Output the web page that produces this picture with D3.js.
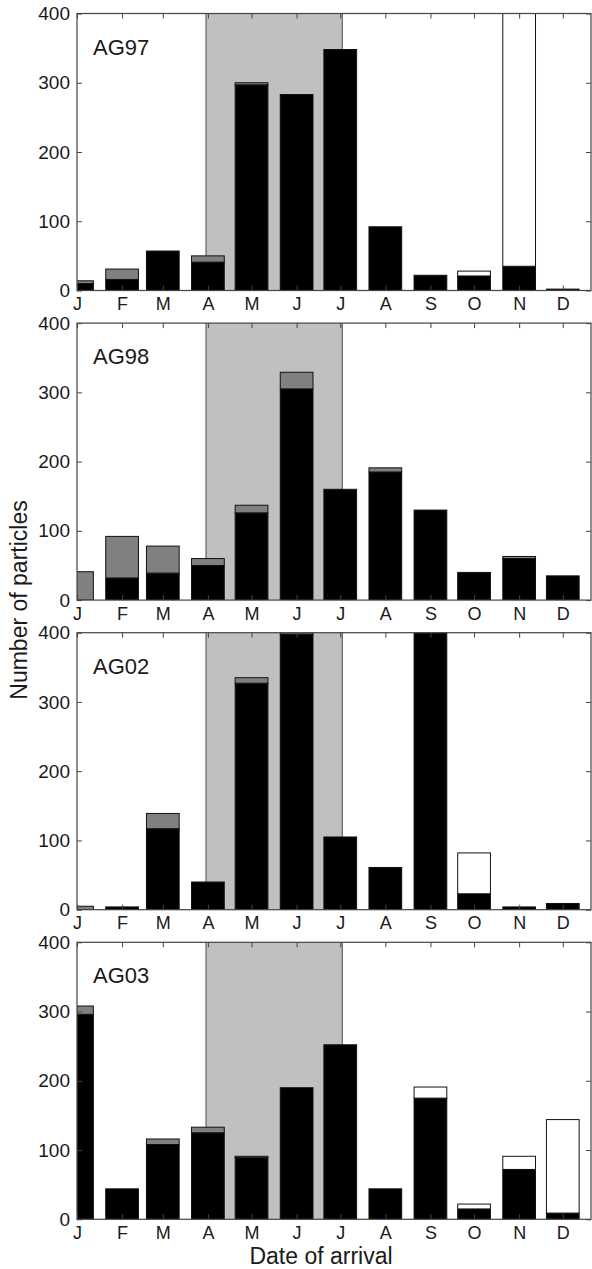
<!DOCTYPE html>
<html>
<head>
<meta charset="utf-8">
<script src="https://cdn.jsdelivr.net/npm/d3@7"></script>
<style>
  html, body { margin: 0; padding: 0; background: #fff; }
  svg { display: block; }
  text { font-family: "Liberation Sans", Arial, Helvetica, sans-serif; fill: #1a1a1a; }
</style>
</head>
<body>
<svg id="chart" width="592" height="1269"></svg>
<script>
// ---- data ----
const months = ["J","F","M","A","M","J","J","A","S","O","N","D"];
const monthDays = [15, 46, 74, 105, 135, 166, 196, 227, 258, 288, 319, 349]; // mid-month day of year
const yTicks = [0, 100, 200, 300, 400];
const panelNames = ["AG97", "AG98", "AG02", "AG03"];
const shadeStartDay = 103.7;
const shadeEndDay = 197.4;

// stacked segment sizes: black (bottom), gray (middle), white (top)
const blackAG97 = [10, 16, 57, 41, 297, 283, 348, 92, 22, 21, 35, 2];
const grayAG97  = [4, 15, 0, 9, 3, 0, 0, 0, 0, 0, 0, 0];
const whiteAG97 = [0, 0, 0, 0, 0, 0, 0, 0, 0, 7, 445, 0];

const blackAG98 = [0, 32, 39, 50, 126, 305, 160, 185, 130, 40, 60, 35];
const grayAG98  = [41, 60, 39, 10, 11, 24, 0, 6, 0, 0, 3, 0];
const whiteAG98 = [0, 0, 0, 0, 0, 0, 0, 0, 0, 0, 0, 0];

const blackAG02 = [0, 4, 117, 40, 327, 398, 105, 61, 450, 23, 4, 9];
const grayAG02  = [5, 0, 22, 0, 8, 30, 0, 0, 0, 0, 0, 0];
const whiteAG02 = [0, 0, 0, 0, 0, 0, 0, 0, 0, 59, 0, 0];

const blackAG03 = [296, 44, 108, 125, 89, 190, 252, 44, 175, 15, 72, 9];
const grayAG03  = [12, 0, 8, 8, 2, 0, 0, 0, 0, 0, 0, 0];
const whiteAG03 = [0, 0, 0, 0, 0, 0, 0, 0, 16, 7, 19, 135];

const series = [
  [blackAG97, grayAG97, whiteAG97],
  [blackAG98, grayAG98, whiteAG98],
  [blackAG02, grayAG02, whiteAG02],
  [blackAG03, grayAG03, whiteAG03]
];
const segColors = ["#000000", "#808080", "#ffffff"];

// ---- layout ----
const svg = d3.select("#chart");
const left = 77, right = 591;
const panelTop0 = 13.5, panelStep = 309.6, panelH = 277;
const barDays = 22.5;
const frameColor = "#444";

const x = d3.scaleLinear().domain([15, 368.4]).range([left, right]);

panelNames.forEach((name, p) => {
  const top = panelTop0 + p * panelStep;
  const bottom = top + panelH;
  const y = d3.scaleLinear().domain([0, 400]).range([bottom, top]);
  const g = svg.append("g");

  const clipId = "clip" + p;
  svg.append("clipPath").attr("id", clipId)
    .append("rect").attr("x", left).attr("y", top)
    .attr("width", right - left).attr("height", panelH);

  const plot = g.append("g").attr("clip-path", `url(#${clipId})`);

  // shaded season
  plot.append("rect")
    .attr("x", x(shadeStartDay)).attr("y", top)
    .attr("width", x(shadeEndDay) - x(shadeStartDay)).attr("height", panelH)
    .attr("fill", "#c0c0c0");
  [shadeStartDay, shadeEndDay].forEach(d => {
    plot.append("line")
      .attr("x1", x(d)).attr("x2", x(d)).attr("y1", top).attr("y2", bottom)
      .attr("stroke", "#4a4a4a").attr("stroke-width", 1);
  });

  // stacked bars
  const [bl, gr, wh] = series[p];
  const segs = [];
  monthDays.forEach((d, i) => {
    let base = 0;
    [bl[i], gr[i], wh[i]].forEach((v, k) => {
      if (v > 0) segs.push({ d, y0: base, y1: base + v, k });
      base += v;
    });
  });
  plot.selectAll("rect.seg").data(segs).enter().append("rect")
    .attr("class", "seg")
    .attr("x", s => x(s.d - barDays / 2))
    .attr("width", s => x(s.d + barDays / 2) - x(s.d - barDays / 2))
    .attr("y", s => y(s.y1))
    .attr("height", s => y(s.y0) - y(s.y1))
    .attr("fill", s => segColors[s.k])
    .attr("stroke", "#111")
    .attr("stroke-width", 1);

  // axes
  const axL = d3.axisLeft(y).tickValues(yTicks).tickSize(-5).tickPadding(7);
  const axR = d3.axisRight(y).tickValues(yTicks).tickSize(-5).tickFormat("");
  const axB = d3.axisBottom(x).tickValues(monthDays).tickSize(-5).tickPadding(7)
    .tickFormat((d, i) => months[i]);
  const axT = d3.axisTop(x).tickValues(monthDays).tickSize(-5).tickFormat("");

  const gl = g.append("g").attr("transform", `translate(${left},0)`).call(axL);
  const gr2 = g.append("g").attr("transform", `translate(${right},0)`).call(axR);
  const gb = g.append("g").attr("transform", `translate(0,${bottom})`).call(axB);
  const gt = g.append("g").attr("transform", `translate(0,${top})`).call(axT);
  [gl, gr2, gb, gt].forEach(a => {
    a.select(".domain").remove();
    a.selectAll(".tick line").attr("stroke", frameColor);
    a.selectAll("text").attr("font-size", 18).attr("fill", "#1a1a1a")
      .attr("font-family", '"Liberation Sans", Arial, sans-serif');
  });
  gl.selectAll("text").attr("font-size", 19);

  // frame
  g.append("rect")
    .attr("x", left).attr("y", top).attr("width", right - left).attr("height", panelH)
    .attr("fill", "none").attr("stroke", frameColor).attr("stroke-width", 1.2);

  // panel label
  g.append("text")
    .attr("x", 93).attr("y", top + 41)
    .attr("font-size", 22)
    .text(name);
});

// axis titles
svg.append("text")
  .attr("transform", "translate(27,600) rotate(-90)")
  .attr("text-anchor", "middle")
  .attr("font-size", 23)
  .text("Number of particles");

svg.append("text")
  .attr("x", 321).attr("y", 1264)
  .attr("text-anchor", "middle")
  .attr("font-size", 23)
  .text("Date of arrival");
</script>
</body>
</html>
